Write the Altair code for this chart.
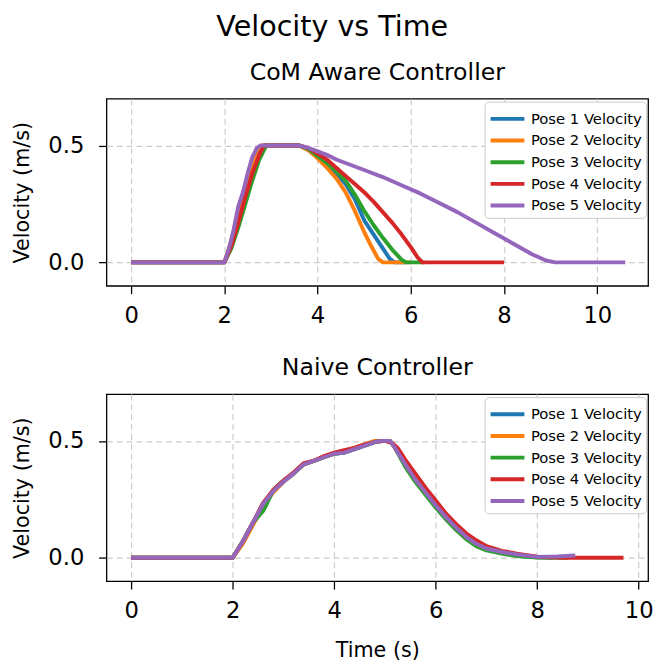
import altair as alt
import pandas as pd

poses = ["Pose 1 Velocity", "Pose 2 Velocity", "Pose 3 Velocity", "Pose 4 Velocity", "Pose 5 Velocity"]
colors = ["#1f77b4", "#ff7f0e", "#2ca02c", "#d62728", "#9467bd"]
x_ticks = [0, 2, 4, 6, 8, 10]
y_ticks = [0.0, 0.5]

# ---- CoM Aware Controller ----
com_t1 = [0, 2.0, 2.15, 2.3, 2.45, 2.6, 2.75, 2.9, 3.6, 3.8, 4.0, 4.2, 4.4, 4.6, 4.8, 5.0, 5.2, 5.4, 5.55, 5.65, 5.9]
com_v1 = [0, 0, 0.07, 0.17, 0.28, 0.39, 0.47, 0.5, 0.5, 0.485, 0.455, 0.42, 0.38, 0.335, 0.27, 0.18, 0.12, 0.06, 0.015, 0, 0]
com_t2 = [0, 2.0, 2.1, 2.2, 2.3, 2.4, 2.5, 2.6, 2.7, 2.8, 3.6, 3.8, 4.0, 4.2, 4.4, 4.6, 4.8, 5.0, 5.15, 5.3, 5.4, 6.0]
com_v2 = [0, 0, 0.06, 0.13, 0.2, 0.27, 0.33, 0.42, 0.48, 0.5, 0.5, 0.48, 0.445, 0.405, 0.36, 0.3, 0.22, 0.13, 0.07, 0.015, 0, 0]
com_t3 = [0, 2.0, 2.15, 2.3, 2.45, 2.6, 2.75, 2.9, 3.6, 3.8, 4.0, 4.2, 4.4, 4.6, 4.8, 5.0, 5.2, 5.4, 5.6, 5.8, 5.9, 6.3]
com_v3 = [0, 0, 0.06, 0.15, 0.25, 0.35, 0.44, 0.5, 0.5, 0.485, 0.455, 0.425, 0.39, 0.35, 0.29, 0.22, 0.16, 0.105, 0.055, 0.012, 0, 0]
com_t4 = [0, 2.0, 2.15, 2.3, 2.45, 2.6, 2.75, 2.85, 3.6, 3.8, 4.0, 4.2, 4.4, 4.6, 4.8, 5.0, 5.2, 5.4, 5.6, 5.8, 6.0, 6.15, 6.25, 8.0]
com_v4 = [0, 0, 0.07, 0.17, 0.28, 0.38, 0.46, 0.5, 0.5, 0.49, 0.465, 0.44, 0.405, 0.37, 0.335, 0.3, 0.26, 0.215, 0.17, 0.12, 0.065, 0.02, 0, 0]
com_t5 = [0, 2.0, 2.1, 2.2, 2.3, 2.4, 2.5, 2.6, 2.7, 2.78, 3.6, 3.8, 4.0, 4.2, 4.4, 4.6, 4.8, 5.0, 5.4, 5.8, 6.2, 6.6, 7.0, 7.4, 7.8, 8.2, 8.6, 8.9, 9.1, 10.6]
com_v5 = [0, 0, 0.06, 0.14, 0.24, 0.3, 0.38, 0.45, 0.49, 0.5, 0.5, 0.49, 0.475, 0.46, 0.44, 0.425, 0.41, 0.395, 0.365, 0.33, 0.295, 0.255, 0.215, 0.17, 0.125, 0.08, 0.035, 0.008, 0, 0]

# ---- Naive Controller ----
nav_t1 = [0, 2.0, 2.2, 2.4, 2.6, 2.8, 3.0, 3.2, 3.4, 3.6, 3.8, 4.0, 4.2, 4.4, 4.6, 4.8, 4.95, 5.1, 5.2, 5.4, 5.6, 5.8, 6.0, 6.2, 6.4, 6.6, 6.8, 7.0, 7.3, 7.6, 8.0, 8.3]
nav_v1 = [0, 0, 0.07, 0.15, 0.23, 0.285, 0.325, 0.36, 0.4, 0.415, 0.43, 0.445, 0.45, 0.465, 0.48, 0.495, 0.5, 0.5, 0.47, 0.395, 0.33, 0.275, 0.22, 0.17, 0.125, 0.085, 0.055, 0.035, 0.02, 0.01, 0.002, 0.001]
nav_t2 = [0, 2.0, 2.2, 2.4, 2.6, 2.8, 3.0, 3.2, 3.4, 3.6, 3.8, 4.0, 4.2, 4.4, 4.6, 4.8, 4.95, 5.1, 5.2, 5.4, 5.6, 5.8, 6.0, 6.2, 6.4, 6.6, 6.8, 7.0, 7.3, 7.6, 8.0, 8.2]
nav_v2 = [0, 0, 0.06, 0.14, 0.22, 0.28, 0.325, 0.36, 0.4, 0.415, 0.43, 0.445, 0.455, 0.47, 0.485, 0.5, 0.5, 0.5, 0.47, 0.4, 0.335, 0.28, 0.225, 0.175, 0.13, 0.09, 0.06, 0.04, 0.022, 0.012, 0.003, 0.002]
nav_t3 = [0, 2.0, 2.2, 2.4, 2.6, 2.65, 2.8, 3.0, 3.2, 3.4, 3.6, 3.8, 4.0, 4.2, 4.4, 4.6, 4.8, 4.95, 5.1, 5.2, 5.4, 5.6, 5.8, 6.0, 6.2, 6.4, 6.6, 6.8, 7.0, 7.3, 7.6, 8.0, 8.6]
nav_v3 = [0, 0, 0.07, 0.15, 0.2, 0.22, 0.29, 0.33, 0.36, 0.4, 0.415, 0.43, 0.445, 0.45, 0.465, 0.48, 0.495, 0.5, 0.5, 0.47, 0.39, 0.325, 0.27, 0.215, 0.165, 0.12, 0.08, 0.05, 0.032, 0.018, 0.008, 0.001, 0.0]
nav_t4 = [0, 2.0, 2.2, 2.4, 2.6, 2.8, 3.0, 3.2, 3.4, 3.6, 3.8, 4.0, 4.2, 4.4, 4.6, 4.8, 5.0, 5.15, 5.25, 5.4, 5.6, 5.8, 6.0, 6.2, 6.4, 6.6, 6.8, 7.0, 7.3, 7.6, 8.0, 8.5, 9.0, 9.7]
nav_v4 = [0, 0, 0.07, 0.15, 0.235, 0.29, 0.33, 0.365, 0.405, 0.415, 0.435, 0.45, 0.46, 0.47, 0.485, 0.495, 0.5, 0.49, 0.47, 0.42, 0.36, 0.3, 0.245, 0.19, 0.145, 0.105, 0.075, 0.05, 0.03, 0.018, 0.005, 0, 0, 0]
nav_t5 = [0, 2.0, 2.2, 2.4, 2.6, 2.8, 3.0, 3.2, 3.4, 3.6, 3.8, 4.0, 4.2, 4.4, 4.6, 4.8, 4.95, 5.1, 5.2, 5.4, 5.6, 5.8, 6.0, 6.2, 6.4, 6.6, 6.8, 7.0, 7.3, 7.6, 8.0, 8.4, 8.75]
nav_v5 = [0, 0, 0.07, 0.15, 0.23, 0.285, 0.325, 0.36, 0.4, 0.415, 0.43, 0.445, 0.45, 0.465, 0.48, 0.495, 0.5, 0.5, 0.47, 0.4, 0.335, 0.28, 0.225, 0.175, 0.13, 0.09, 0.06, 0.04, 0.025, 0.014, 0.004, 0.006, 0.01]


def make_frame(times, vels):
    rows = []
    for name, ts, vs in zip(poses, times, vels):
        for i, (t, v) in enumerate(zip(ts, vs)):
            rows.append({"pose": name, "idx": i, "t": t, "v": v})
    return pd.DataFrame(rows)


com_df = make_frame([com_t1, com_t2, com_t3, com_t4, com_t5], [com_v1, com_v2, com_v3, com_v4, com_v5])
nav_df = make_frame([nav_t1, nav_t2, nav_t3, nav_t4, nav_t5], [nav_v1, nav_v2, nav_v3, nav_v4, nav_v5])

FONT = "DejaVu Sans"


def panel(df, title, xdom, xtitle):
    legend = alt.Legend(
        title=None, orient="none", legendX=384, legendY=3, fillColor="white", strokeColor="#cccccc",
        cornerRadius=4, padding=4, symbolType="M-1,0L2,0", symbolStrokeWidth=4, symbolSize=525,
        labelFontSize=15, labelFont=FONT, labelColor="black", labelOffset=16, rowPadding=0,
        symbolOpacity=1,
    )
    xaxis = alt.Axis(values=x_ticks, format="d", title=xtitle) if xtitle else alt.Axis(values=x_ticks, format="d", title=None)
    return alt.Chart(df).mark_line(strokeWidth=4, strokeJoin="round").encode(
        x=alt.X("t:Q", scale=alt.Scale(domain=xdom, nice=False, zero=False), axis=xaxis),
        y=alt.Y("v:Q", scale=alt.Scale(domain=[-0.1, 0.7], nice=False),
                axis=alt.Axis(values=y_ticks, format=".1f", title="Velocity (m/s)")),
        color=alt.Color("pose:N", scale=alt.Scale(domain=poses, range=colors), legend=legend),
        order="idx:Q",
    ).properties(
        width=550, height=190,
        title=alt.TitleParams(title, fontSize=24, fontWeight="normal", font=FONT, anchor="middle", frame="group", offset=14, color="black"),
    )


top = panel(com_df, "CoM Aware Controller", [-0.528, 11.09], None)
bottom = panel(nav_df, "Naive Controller", [-0.485, 10.185], "Time (s)")

chart = alt.vconcat(top, bottom, spacing=28).resolve_legend(color="independent").properties(
    title=alt.TitleParams("Velocity vs Time", fontSize=29, fontWeight="normal", font=FONT, anchor="middle", color="black", offset=19),
    padding={"left": 2, "top": 0, "right": 0, "bottom": 0},
).configure_view(
    stroke="black", strokeWidth=1.3
).configure_axis(
    labelFont=FONT, titleFont=FONT, labelFontSize=23, titleFontSize=21, labelColor="black", titleColor="black",
    titleFontWeight="normal", tickColor="black", tickSize=8, tickWidth=1.3, domain=False,
    gridColor="#cccccc", gridDash=[6, 4], gridWidth=1.2,
).configure_axisY(
    titlePadding=16, labelPadding=15
).configure_axisX(
    titlePadding=17, labelPadding=11
)

chart.save("out.html", embed_options={"renderer": "svg", "actions": False})
